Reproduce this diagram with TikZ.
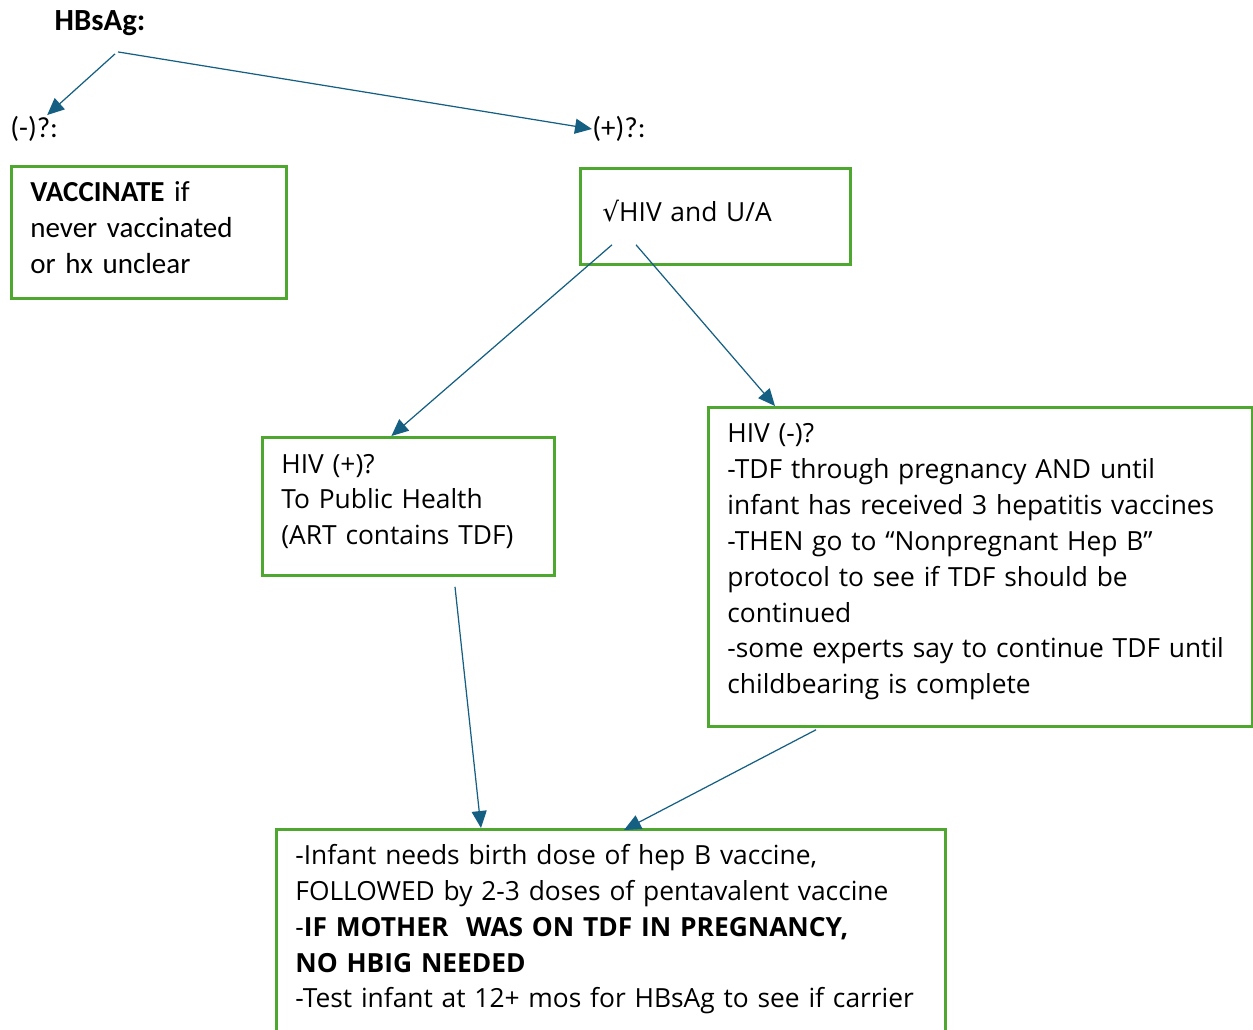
\documentclass[tikz,border=0pt]{standalone}
\usepackage{fontspec}
\setmainfont{Open Sans}
\newfontfamily\calfont{Carlito}
\newfontfamily\symfont{DejaVu Sans}
\usetikzlibrary{arrows.meta,calc}
\definecolor{boxgreen}{HTML}{4EA72E}
\definecolor{arrowblue}{HTML}{156082}
\tikzset{
main box/.style={draw=boxgreen, line width=1.6pt, anchor=north west, align=left, inner xsep=0.38cm, inner ysep=0pt, font=\fontsize{15}{20.4}\selectfont},
text up/.style={execute at end node={\par\vskip0.2cm\kern0pt}},
main label/.style={font=\calfont\fontsize{16.5}{20.4}\selectfont, inner sep=0pt},
main arrow/.style={draw=arrowblue, line width=0.7pt, -{Triangle[length=0.34cm,width=0.3cm]}}
}
\begin{document}
\begin{tikzpicture}[x=0.02cm, y=-0.02cm]
\useasboundingbox (0,0) rectangle (1253,1029);
\clip (0,0) rectangle (1253,1029);
\begin{scope}
\node[main label, font=\calfont\bfseries\fontsize{17.5}{20.4}\selectfont] (hbsag) at (100,23) {HBsAg:};
\node[main label, anchor=west] (neg) at (10,129) {(-)?:};
\node[main label, anchor=west] (pos) at (592,129) {(+)?:};
\node[main box, text up, font=\calfont\fontsize{16.5}{20.4}\selectfont, text width=4.74cm, minimum width=5.5cm, minimum height=2.64cm] (vacc) at (10,165) {\textbf{VACCINATE} if\\never vaccinated\\or hx unclear};
\node[main box, text up, inner xsep=0.44cm, text width=4.52cm, minimum width=5.4cm, minimum height=1.92cm] (hivtest) at (579,167) {{\symfont √}HIV and U/A};
\node[main box, text up, text width=5.08cm, minimum width=5.84cm, minimum height=2.76cm] (hivpos) at (261,436) {HIV (+)?\\To Public Health\\(ART contains TDF)};
\node[main box, text up, text width=10.12cm, minimum width=10.88cm, minimum height=6.38cm] (hivneg) at (707,406) {HIV (-)?\\-TDF through pregnancy AND until\\infant has received 3 hepatitis vaccines\\-THEN go to “Nonpregnant Hep B”\\protocol to see if TDF should be\\continued\\-some experts say to continue TDF until\\childbearing is complete};
\node[main box, inner ysep=0.3cm, text depth=3.6cm, text width=12.62cm, minimum width=13.38cm] (infant) at (275,828) {-Infant needs birth dose of hep B vaccine,\\FOLLOWED by 2-3 doses of pentavalent vaccine\\-\textbf{IF MOTHER\ \ WAS ON TDF IN PREGNANCY,}\\\textbf{NO HBIG NEEDED}\\-Test infant at 12+ mos for HBsAg to see if carrier};
\end{scope}
\begin{scope}
\draw[main arrow] ($(hbsag.south)+(15,18)$) -- ($(neg.north)+(13,-1)$);
\draw[main arrow] ($(hbsag.south)+(18,16)$) -- (pos.west);
\draw[main arrow] ($(hivtest.south west)+(33,-21)$) -- ($(hivpos.north)+(-17,0)$);
\draw[main arrow] ($(hivtest.south west)+(57,-21)$) -- ($(hivneg.north west)+(68,0)$);
\draw[main arrow] ($(hivpos.south west)+(194,10)$) -- ($(infant.north west)+(206,0)$);
\draw[main arrow] ($(hivneg.south west)+(109,2)$) -- ($(infant.north west)+(349,2)$);
\end{scope}
\end{tikzpicture}
\end{document}
